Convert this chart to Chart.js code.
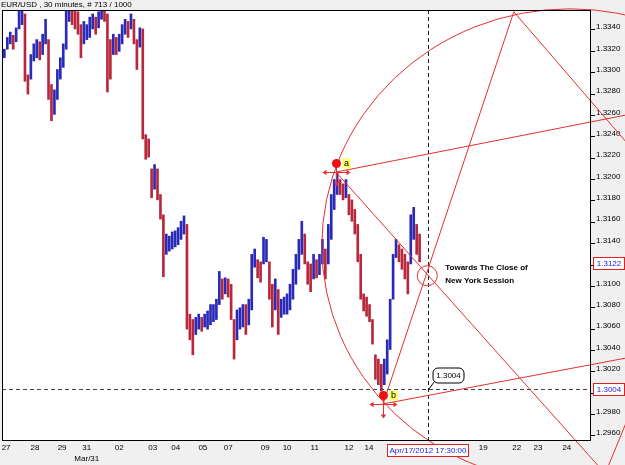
<!DOCTYPE html>
<html>
<head>
<meta charset="utf-8">
<script src="https://cdn.jsdelivr.net/npm/chart.js@4.4.0/dist/chart.umd.min.js"></script>
<style>
  html, body { margin: 0; padding: 0; background: #f0f0f0; }
  canvas { display: block; }
</style>
</head>
<body>
<canvas id="priceChart" width="625" height="465"></canvas>
<script>
// EUR/USD 30 min - high / low of every 5th bar
const symbolTitle = 'EUR/USD , 30 minutes, # 713 / 1000';
const firstBar = 4, barStep = 5;

const highs = [
  1.3322, 1.3333, 1.3338, 1.3335, 1.3342, 1.3364, 1.3361, 1.3355, 1.3298, 1.3317,
  1.3327, 1.3331, 1.3329, 1.3336, 1.3350, 1.3331, 1.3289, 1.3284, 1.3303, 1.3314,
  1.3327, 1.3364, 1.3367, 1.3364, 1.3361, 1.3357, 1.3345, 1.3348, 1.3345, 1.3352,
  1.3355, 1.3352, 1.3357, 1.3364, 1.3364, 1.3355, 1.3331, 1.3336, 1.3333, 1.3336,
  1.3345, 1.3350, 1.3348, 1.3355, 1.3350, 1.3331, 1.3342, 1.3341, 1.3242, 1.3238,
  1.3210, 1.3214, 1.3210, 1.3186, 1.3167, 1.3149, 1.3147, 1.3151, 1.3152, 1.3155,
  1.3161, 1.3166, 1.3158, 1.3074, 1.3069, 1.3071, 1.3074, 1.3071, 1.3074, 1.3077,
  1.3083, 1.3083, 1.3088, 1.3114, 1.3107, 1.3108, 1.3107, 1.3102, 1.3069, 1.3078,
  1.3080, 1.3083, 1.3083, 1.3088, 1.3130, 1.3135, 1.3125, 1.3123, 1.3146, 1.3144,
  1.3123, 1.3102, 1.3107, 1.3097, 1.3088, 1.3090, 1.3093, 1.3102, 1.3116, 1.3130,
  1.3144, 1.3161, 1.3149, 1.3123, 1.3121, 1.3130, 1.3125, 1.3130, 1.3144, 1.3135,
  1.3158, 1.3186, 1.3200, 1.3207, 1.3200, 1.3196, 1.3200, 1.3186, 1.3181, 1.3172,
  1.3158, 1.3130, 1.3093, 1.3090, 1.3083, 1.3069, 1.3036, 1.3032, 1.3027, 1.3032,
  1.3050, 1.3088, 1.3130, 1.3144, 1.3139, 1.3135, 1.3130, 1.3123, 1.3167, 1.3174,
  1.3158, 1.3149
];
const lows = [
  1.3314, 1.3322, 1.3327, 1.3322, 1.3329, 1.3341, 1.3345, 1.3292, 1.3280, 1.3294,
  1.3311, 1.3314, 1.3312, 1.3317, 1.3327, 1.3275, 1.3255, 1.3261, 1.3275, 1.3294,
  1.3305, 1.3322, 1.3348, 1.3345, 1.3341, 1.3336, 1.3314, 1.3327, 1.3331, 1.3333,
  1.3341, 1.3336, 1.3342, 1.3350, 1.3348, 1.3282, 1.3294, 1.3317, 1.3317, 1.3320,
  1.3327, 1.3336, 1.3333, 1.3341, 1.3327, 1.3303, 1.3324, 1.3238, 1.3219, 1.3221,
  1.3183, 1.3191, 1.3181, 1.3163, 1.3109, 1.3130, 1.3133, 1.3135, 1.3137, 1.3139,
  1.3144, 1.3149, 1.3060, 1.3050, 1.3036, 1.3055, 1.3060, 1.3058, 1.3062, 1.3060,
  1.3064, 1.3067, 1.3069, 1.3083, 1.3088, 1.3093, 1.3090, 1.3069, 1.3032, 1.3050,
  1.3060, 1.3062, 1.3055, 1.3064, 1.3078, 1.3118, 1.3108, 1.3104, 1.3121, 1.3123,
  1.3088, 1.3062, 1.3078, 1.3055, 1.3071, 1.3074, 1.3074, 1.3078, 1.3088, 1.3102,
  1.3116, 1.3130, 1.3121, 1.3102, 1.3095, 1.3107, 1.3108, 1.3111, 1.3121, 1.3107,
  1.3121, 1.3144, 1.3172, 1.3186, 1.3186, 1.3181, 1.3183, 1.3167, 1.3161, 1.3149,
  1.3123, 1.3088, 1.3077, 1.3072, 1.3067, 1.3046, 1.3013, 1.3008, 1.3002, 1.3008,
  1.3018, 1.3041, 1.3088, 1.3127, 1.3123, 1.3116, 1.3107, 1.3093, 1.3121, 1.3144,
  1.3130, 1.3123
];

// axes
const dayTickBars = [7, 56, 102, 144, 199, 256, 295, 341, 384, 447, 484, 531, 589, 623, 817, 874, 910, 959];
const dayTickLabels = ['27', '28', '29', ['31', 'Mar/31'], '02', '03', '04', '05', '07', '09', '10', '11', '12', '14', '19', '22', '23', '24'];
const priceTicks = [1.2960, 1.2980, 1.3000, 1.3020, 1.3040, 1.3060, 1.3080, 1.3100, 1.3120, 1.3140,
                    1.3160, 1.3180, 1.3200, 1.3220, 1.3240, 1.3260, 1.3280, 1.3300, 1.3320, 1.3340];

// drawings on the chart
const pivotA = { bar: 567, price: 1.3207, name: 'a' };
const pivotB = { bar: 647, price: 1.2990, name: 'b' };
const apex = { bar: 869, price: 1.3357 };
const trendLines = [
  [pivotA.bar, pivotA.price, 1185, 1.3274],
  [pivotB.bar, pivotB.price, 1185, 1.3046],
  [pivotA.bar, pivotA.price, 1095, 1.2881],
  [pivotB.bar, pivotB.price, apex.bar, apex.price],
  [apex.bar, apex.price, 1185, 1.3155],
  [1025, 1.2926, 1066, 1.2981]
];
const arcCenter = { bar: 964, price: 1.3138 };
const arcRadius = { bars: 421, price: 0.02218 };
const sessionMark = { bar: 722, price: 1.3110 };
const sessionNote = ['Towards The Close of', 'New York Session'];
const cursorBar = 723;
const cursorTime = 'Apr/17/2012 17:30:00';
const levelPrice = 1.3004;
const lastPrice = 1.3122;

const upColor = '#2a2ab8';
const downColor = '#b8283c';
const lineRed = '#e53030';
const axisFont = { family: 'Liberation Sans', size: 8 };

const barColors = highs.map((h, i) => {
    if (i === 0) return upColor;
    const mid = (h + lows[i]) / 2;
    const prev = (highs[i - 1] + lows[i - 1]) / 2;
    return mid >= prev ? upColor : downColor;
});

function arrowHead(ctx, x, y, dx, dy) {
    const s = 4;
    ctx.beginPath();
    ctx.moveTo(x, y);
    ctx.lineTo(x - dx * s - dy * s * 0.7, y - dy * s - dx * s * 0.7);
    ctx.lineTo(x - dx * s + dy * s * 0.7, y - dy * s + dx * s * 0.7);
    ctx.closePath();
    ctx.fill();
}

function priceBox(ctx, x, y, w, text) {
    ctx.fillStyle = '#ffffff';
    ctx.fillRect(x, y - 6, w, 12);
    ctx.strokeStyle = '#e02020';
    ctx.lineWidth = 1;
    ctx.strokeRect(x + 0.5, y - 6 + 0.5, w - 1, 12);
    ctx.fillStyle = '#1a1ae0';
    ctx.textAlign = 'center';
    ctx.textBaseline = 'middle';
    ctx.fillText(text, x + w / 2, y + 0.5);
}

const drawings = {
    id: 'drawings',
    beforeDraw(chart) {
        const { ctx, chartArea: a } = chart;
        ctx.save();
        ctx.fillStyle = '#f0f0f0';
        ctx.fillRect(0, 0, chart.width, chart.height);
        ctx.fillStyle = '#ffffff';
        ctx.fillRect(a.left, a.top, a.right - a.left, a.bottom - a.top);
        ctx.restore();
    },
    afterDatasetsDraw(chart) {
        const { ctx, chartArea: a } = chart;
        const X = v => chart.scales.x.getPixelForValue(v);
        const Y = v => chart.scales.y.getPixelForValue(v);
        ctx.save();

        // dashed cursor lines
        ctx.strokeStyle = '#222';
        ctx.lineWidth = 1;
        ctx.setLineDash([4, 3]);
        const cx = Math.round(X(cursorBar)) + 0.5;
        ctx.beginPath(); ctx.moveTo(cx, a.top); ctx.lineTo(cx, a.bottom); ctx.stroke();
        const ly = Math.round(Y(levelPrice)) + 0.5;
        ctx.strokeStyle = '#444';
        ctx.beginPath(); ctx.moveTo(a.left, ly); ctx.lineTo(a.right, ly); ctx.stroke();
        ctx.setLineDash([]);

        // trend lines and arc
        ctx.strokeStyle = lineRed;
        ctx.lineWidth = 1;
        trendLines.forEach(l => {
            ctx.beginPath();
            ctx.moveTo(X(l[0]), Y(l[1]));
            ctx.lineTo(X(l[2]), Y(l[3]));
            ctx.stroke();
        });
        const ex = X(arcCenter.bar), ey = Y(arcCenter.price);
        const rx = X(arcCenter.bar + arcRadius.bars) - ex;
        const ry = Y(arcCenter.price - arcRadius.price) - ey;
        ctx.beginPath();
        ctx.ellipse(ex, ey, rx, ry, 0, 0, Math.PI * 2);
        ctx.stroke();

        // session circle + note
        const sx = X(sessionMark.bar), sy = Y(sessionMark.price);
        ctx.beginPath();
        ctx.arc(sx, sy, 10, 0, Math.PI * 2);
        ctx.stroke();
        ctx.fillStyle = '#000';
        ctx.font = 'bold 8px "Liberation Sans"';
        ctx.textAlign = 'left';
        ctx.textBaseline = 'middle';
        ctx.fillText(sessionNote[0], sx + 18, sy - 8);
        ctx.fillText(sessionNote[1], sx + 18, sy + 5);

        // pivots a and b
        [pivotA, pivotB].forEach(p => {
            const px = Math.round(X(p.bar)) + 0.5, py = Math.round(Y(p.price)) + 0.5;
            ctx.strokeStyle = lineRed;
            ctx.fillStyle = lineRed;
            ctx.beginPath(); ctx.moveTo(px - 13, py); ctx.lineTo(px + 13, py); ctx.stroke();
            arrowHead(ctx, px - 14, py, -1, 0);
            arrowHead(ctx, px + 14, py, 1, 0);
            ctx.beginPath(); ctx.moveTo(px, py - 9); ctx.lineTo(px, py + 12); ctx.stroke();
            arrowHead(ctx, px, py + 14, 0, 1);
            ctx.fillStyle = '#ee1010';
            ctx.beginPath(); ctx.arc(px, py - 9, 4.5, 0, Math.PI * 2); ctx.fill();
            ctx.fillStyle = '#ffff66';
            ctx.fillRect(px + 6, py - 14, 8, 10);
            ctx.fillStyle = '#000';
            ctx.font = '9px "Liberation Sans"';
            ctx.textAlign = 'center';
            ctx.fillText(p.name, px + 10, py - 9);
        });

        // level callout
        const bx = cx + 4, by = ly - 22;
        ctx.strokeStyle = '#000';
        ctx.beginPath(); ctx.moveTo(cx, ly); ctx.lineTo(bx + 2, by + 14); ctx.stroke();
        ctx.fillStyle = '#fff';
        ctx.beginPath();
        ctx.roundRect(bx + 0.5, by + 0.5, 31, 15, 5);
        ctx.fill();
        ctx.stroke();
        ctx.fillStyle = '#000';
        ctx.font = '8px "Liberation Sans"';
        ctx.textAlign = 'center';
        ctx.fillText(levelPrice.toFixed(4), bx + 16, by + 8);
        ctx.restore();
    },
    afterDraw(chart) {
        const { ctx, chartArea: a } = chart;
        const X = v => chart.scales.x.getPixelForValue(v);
        const Y = v => chart.scales.y.getPixelForValue(v);
        ctx.save();
        ctx.strokeStyle = '#000';
        ctx.lineWidth = 1;
        ctx.strokeRect(a.left + 0.5, a.top + 0.5, a.right - a.left - 1, a.bottom - a.top - 1);

        ctx.font = '8px "Liberation Sans"';
        priceBox(ctx, a.right + 2, Math.round(Y(lastPrice)), 32, lastPrice.toFixed(4));
        priceBox(ctx, a.right + 2, Math.round(Y(levelPrice)), 32, levelPrice.toFixed(4));
        const tw = 82;
        priceBox(ctx, Math.round(X(cursorBar)) - tw / 2, a.bottom + 9, tw, cursorTime);

        ctx.fillStyle = '#000';
        ctx.textAlign = 'left';
        ctx.textBaseline = 'middle';
        ctx.fillText(symbolTitle, 1, 5);
        ctx.restore();
    }
};

new Chart(document.getElementById('priceChart'), {
    type: 'bar',
    data: {
        datasets: [{
            label: symbolTitle,
            data: highs.map((h, i) => ({ x: firstBar + i * barStep, y: [lows[i], h] })),
            backgroundColor: barColors,
            borderWidth: 0,
            barThickness: 2,
            grouped: false
        }]
    },
    options: {
        responsive: false,
        animation: false,
        events: [],
        layout: { padding: { left: 2, top: 10, right: 0, bottom: 0 } },
        plugins: {
            legend: { display: false },
            tooltip: { enabled: false }
        },
        scales: {
            x: {
                type: 'linear',
                min: 0,
                max: 1000,
                offset: false,
                grid: { display: false, drawTicks: false },
                border: { display: false },
                afterBuildTicks: s => { s.ticks = dayTickBars.map(v => ({ value: v })); },
                afterFit: s => { s.height = 24; },
                ticks: {
                    autoSkip: false,
                    maxRotation: 0,
                    padding: 1,
                    color: '#000',
                    font: { family: 'Liberation Sans', size: 8, lineHeight: 1.4 },
                    callback: (v, i) => dayTickLabels[i]
                }
            },
            y: {
                position: 'right',
                min: 1.29553,
                max: 1.33587,
                grid: { drawOnChartArea: false, drawTicks: true, tickLength: 4, color: '#000' },
                border: { display: false },
                afterBuildTicks: s => { s.ticks = priceTicks.map(v => ({ value: v })); },
                afterFit: s => { s.width = 34; },
                ticks: {
                    padding: 1,
                    labelOffset: -3,
                    color: '#000',
                    font: axisFont,
                    callback: v => v.toFixed(4)
                }
            }
        }
    },
    plugins: [drawings]
});
</script>
</body>
</html>
